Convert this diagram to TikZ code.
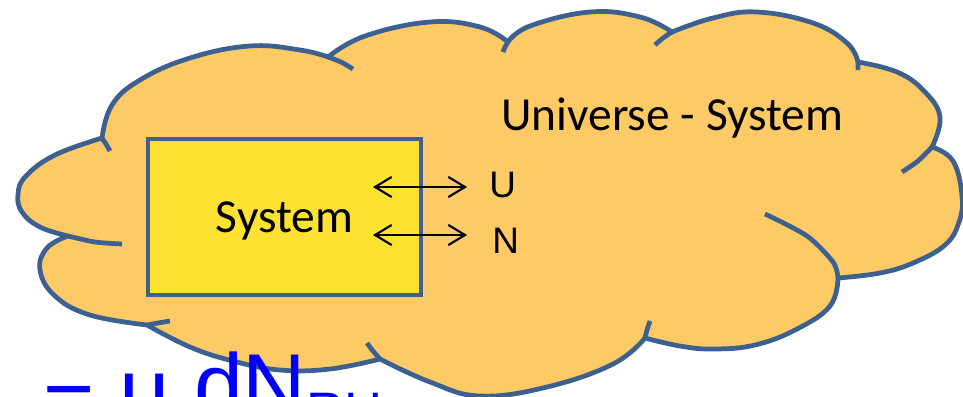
\documentclass[tikz,border=0pt]{standalone}
\usepackage{fontspec}
\setmainfont{Carlito}
\newfontfamily\arialfont{Liberation Sans}
\usetikzlibrary{arrows.meta, positioning, calc}
\definecolor{cloudfill}{RGB}{254,202,102}
\definecolor{cloudline}{RGB}{60,96,143}
\definecolor{sysfill}{RGB}{254,226,50}
\tikzset{
  cloudedge/.style={draw=cloudline, line width=2.7pt, line join=round}
}
\tikzset{
  sysbox/.style={draw=cloudline, line width=2.5pt, fill=sysfill,
    minimum width=5.46cm, minimum height=3.12cm, inner sep=0pt,
    text depth=0pt, font=\fontsize{27}{32}\selectfont},
  bigtext/.style={inner sep=0pt, font=\fontsize{27}{32}\selectfont},
  flowtext/.style={inner sep=0pt, font=\arialfont\fontsize{21}{25}\selectfont},
  eqtext/.style={inner sep=0pt, text=blue, font=\arialfont\fontsize{50}{60}\selectfont},
  flow/.style={<->, line width=1.2pt}
}

\begin{document}
\begin{tikzpicture}[x=0.02cm, y=-0.02cm, >={Straight Barb[length=9.5pt,width=11.5pt]}]
  \useasboundingbox (0,0) rectangle (963,396);
  % cloud, one smooth run per lobe
  \filldraw[fill=cloudfill, cloudedge, smooth, tension=0.7]
    plot coordinates {(102,138) (112,105) (140,80) (190,58) (250,46) (300,50) (328,57)}
    -- plot coordinates {(328,57) (365,36) (430,22) (480,27) (508,42)}
    -- plot coordinates {(508,42) (530,26) (590,12) (640,17) (672,32)}
    -- plot coordinates {(672,32) (713,18) (757,12) (813,23) (847,43) (858,62)}
    -- plot coordinates {(858,62) (897,72) (924,91) (940,117) (932,147)}
    -- plot coordinates {(932,147) (953,161) (962,196) (959,222) (945,245) (913,263) (880,273) (838,278)}
    -- plot coordinates {(838,278) (830,306) (797,329) (755,345) (713,349) (680,346) (645,338)}
    -- plot coordinates {(645,338) (613,364) (547,387) (480,396) (430,382) (380,359)}
    -- plot coordinates {(380,359) (330,369) (280,370) (233,361) (190,347) (147,325)}
    -- plot coordinates {(147,325) (90,315) (55,296) (40,270) (47,248) (68,236)}
    -- plot coordinates {(68,236) (40,227) (22,212) (18,194) (26,176) (55,155) (102,138)}
    -- cycle;
  % inner ends of the lobes
  \draw[cloudedge, smooth]
    plot coordinates {(102,138) (106,144) (110,151)}
    plot coordinates {(328,57) (341,62) (353,69)}
    plot coordinates {(508,42) (505,47) (503,52)}
    plot coordinates {(672,32) (663,38) (655,45)}
    plot coordinates {(858,62) (858,66) (858,70)}
    plot coordinates {(932,147) (918,161) (902,172)}
    plot coordinates {(838,278) (833,262) (807,236) (765,214)}
    plot coordinates {(645,338) (647,330) (650,321)}
    plot coordinates {(380,359) (373,351) (367,343)}
    plot coordinates {(147,325) (158,323) (170,321)}
    plot coordinates {(68,236) (95,242) (122,244)};

  \node[sysbox] (sys) at (284.5,217) {System};
  \node[bigtext, anchor=base west] (rest) at (501,130) {Universe - System};
  \node[flowtext, anchor=base west] (u) at (489,197) {U};
  \node[flowtext, anchor=base west] (n) at (492,253) {N};

  \coordinate (uin) at (373,187);
  \coordinate (uout) at (467,187);
  \coordinate (nin) at (373,235);
  \coordinate (nout) at (467,235);
  \draw[flow] (uin) -- (uout);
  \draw[flow] (nin) -- (nout);

  \node[eqtext, anchor=base west] (eq) at (43,415)
    {\raisebox{-8.5pt}{=} \raisebox{-3.4pt}{μ} dN{\fontsize{30}{36}\selectfont\raisebox{-8pt}{RH}}};
\end{tikzpicture}
\end{document}
